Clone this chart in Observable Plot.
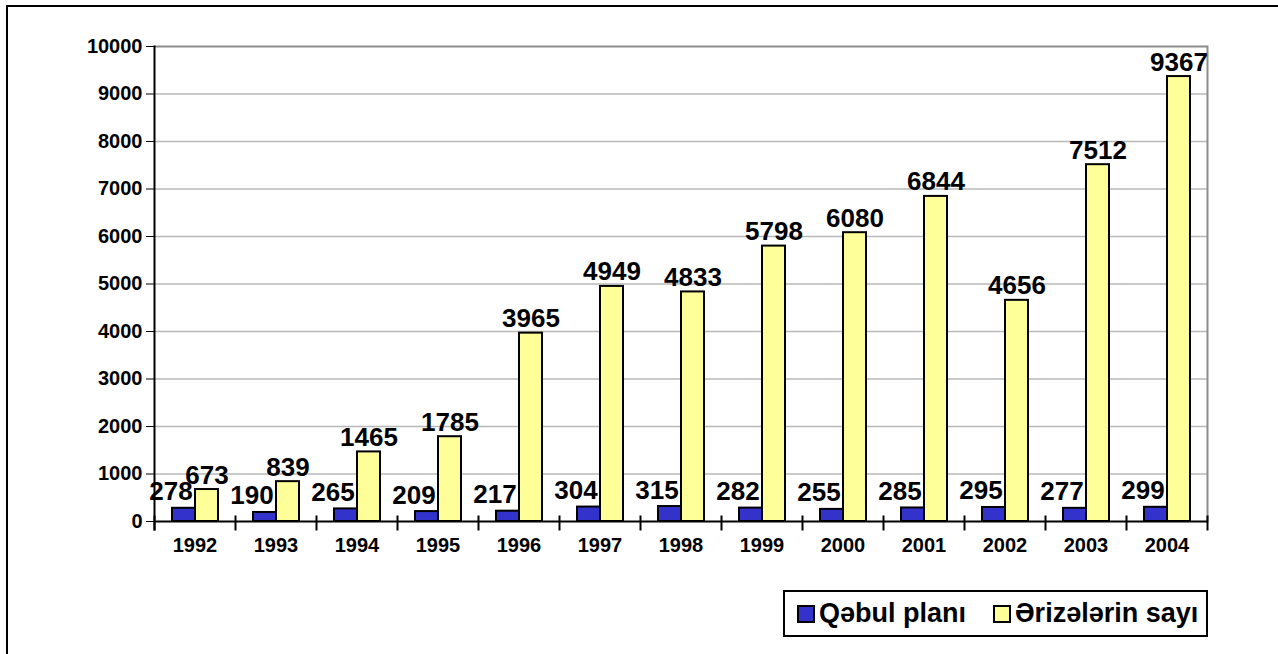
<!DOCTYPE html>
<html><head><meta charset="utf-8">
<script src="https://cdn.jsdelivr.net/npm/d3@7"></script>
<script src="https://cdn.jsdelivr.net/npm/@observablehq/plot@0.6"></script>
<style>
html,body{margin:0;padding:0;background:#fff;overflow:hidden;}
#wrap{position:relative;width:1278px;height:654px;overflow:hidden;font-family:"Liberation Sans",Arial,sans-serif;}
#border{position:absolute;left:6px;top:5px;width:1400px;height:800px;border-left:2px solid #000;border-top:2px solid #000;}
#chart{position:absolute;left:0;top:0;}
#legend{position:absolute;left:783px;top:590px;width:425px;height:47px;box-sizing:border-box;border:2px solid #000;display:flex;align-items:center;padding-left:12px;font-weight:bold;font-size:27px;color:#000;}
.item{display:flex;align-items:center;}
.sw{display:inline-block;width:18px;height:18px;box-sizing:border-box;border:2px solid #000;margin-right:4px;}
</style></head>
<body>
<div id="wrap">
  <div id="border"></div>
  <div id="chart"></div>
  <div id="legend"></div>
</div>
<script>
const years = ["1992","1993","1994","1995","1996","1997","1998","1999","2000","2001","2002","2003","2004"];
const plan = [278,190,265,209,217,304,315,282,255,285,295,277,299];
const apps = [673,839,1465,1785,3965,4949,4833,5798,6080,6844,4656,7512,9367];
const seriesNames = ["Qəbul planı","Ərizələrin sayı"];
const seriesColors = ["#3333cc","#ffff99"];
const yTicks = [0,1000,2000,3000,4000,5000,6000,7000,8000,9000,10000];

const rows = years.flatMap((yr, i) => [
  {year: yr, series: seriesNames[0], value: plan[i]},
  {year: yr, series: seriesNames[1], value: apps[i]}
]);

const chart = Plot.plot({
  width: 1278,
  height: 575,
  marginLeft: 153,
  marginRight: 71,
  marginTop: 46,
  marginBottom: 54,
  style: {fontFamily: '"Liberation Sans", Arial, sans-serif', fontWeight: "bold", fontSize: "20px", color: "#000", background: "transparent"},
  fx: {domain: years, padding: 0, label: null, tickSize: 0, tickPadding: 16},
  x: {domain: seriesNames, axis: null, paddingInner: 0, paddingOuter: 0.69},
  y: {domain: [0, 10000], ticks: yTicks, tickFormat: d => String(d), tickSize: 8, tickPadding: 4, label: null},
  color: {domain: seriesNames, range: seriesColors},
  marks: [
    Plot.ruleY(yTicks.filter(t => t > 0 && t < 10000), {stroke: "#b8b8b8", strokeWidth: 1.5}),
    Plot.ruleY([10000], {stroke: "#8c8c8c", strokeWidth: 2}),
    Plot.frame({anchor: "right", facetAnchor: "right", stroke: "#8c8c8c", strokeWidth: 2}),
    Plot.barY(rows, {fx: "year", x: "series", y: "value", fill: "series", stroke: "#000", strokeWidth: 2}),
    Plot.ruleY([0], {stroke: "#000", strokeWidth: 2}),
    Plot.frame({anchor: "left", facetAnchor: "left", stroke: "#000", strokeWidth: 2, insetBottom: -8}),
    Plot.frame({anchor: "left", insetTop: 470, insetBottom: -8, stroke: "#000", strokeWidth: 2}),
    Plot.frame({anchor: "right", facetAnchor: "right", insetTop: 470, insetBottom: -8, stroke: "#000", strokeWidth: 2}),
    Plot.text(rows.filter(d => d.series === seriesNames[0]), {fx: "year", x: "series", y: "value", text: d => String(d.value), lineAnchor: "bottom", dy: -8, dx: -13, fontSize: 26, fontWeight: "bold", fill: "#000"}),
    Plot.text(rows.filter(d => d.series === seriesNames[1]), {fx: "year", x: "series", y: "value", text: d => String(d.value), lineAnchor: "bottom", dy: -6, fontSize: 26, fontWeight: "bold", fill: "#000"})
  ]
});
document.getElementById("chart").appendChild(chart);

const legend = document.getElementById("legend");
seriesNames.forEach((name, i) => {
  const item = document.createElement("span");
  item.className = "item";
  if (i > 0) item.style.marginLeft = "27px";
  const sw = document.createElement("span");
  sw.className = "sw";
  sw.style.background = seriesColors[i];
  const label = document.createElement("span");
  label.textContent = name;
  item.appendChild(sw);
  item.appendChild(label);
  legend.appendChild(item);
});
</script>
</body></html>
